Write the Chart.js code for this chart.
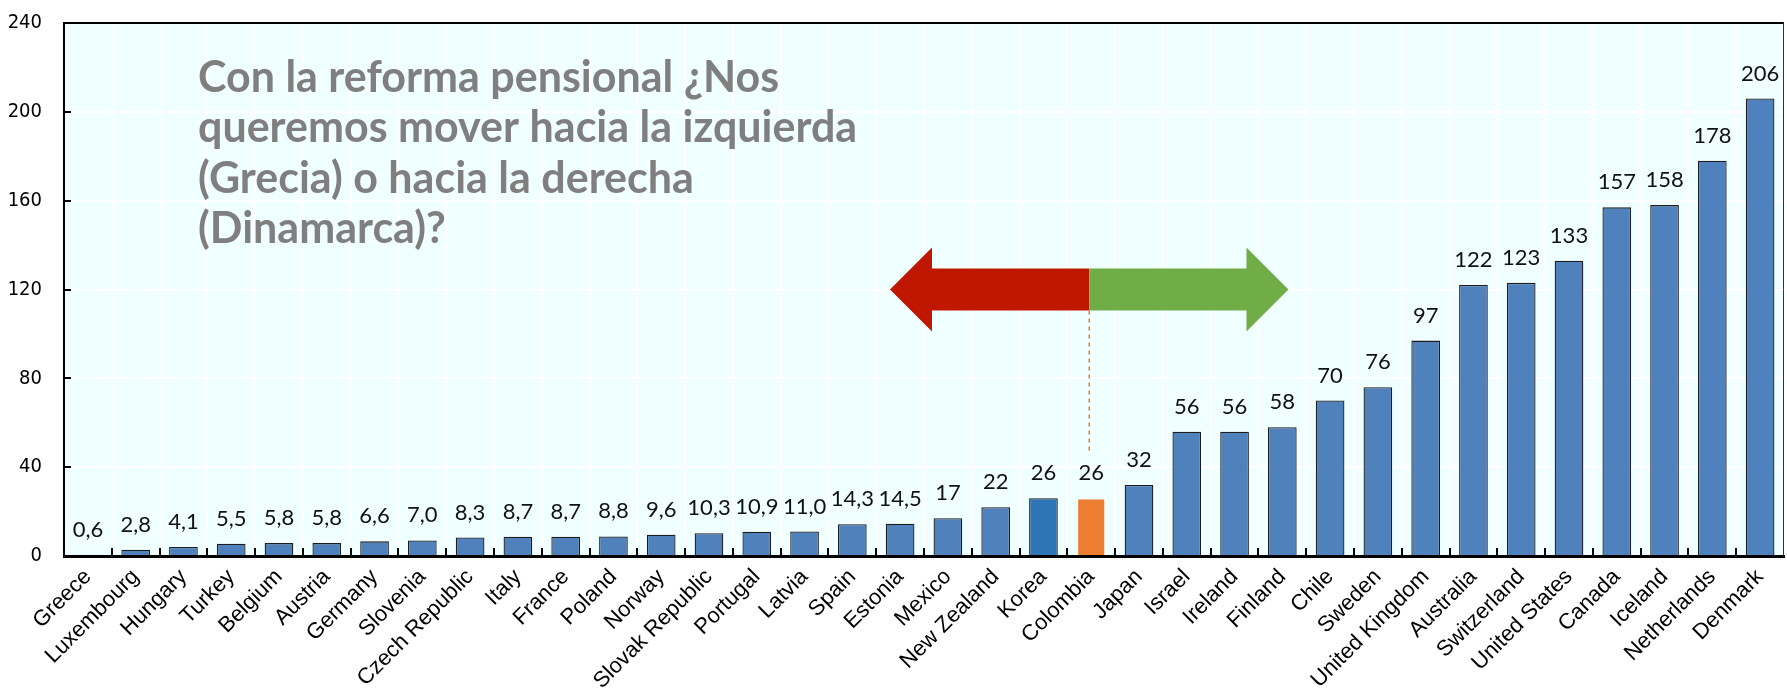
<!DOCTYPE html>
<html>
<head>
<meta charset="utf-8">
<script src="https://cdn.jsdelivr.net/npm/chart.js@4.4.1/dist/chart.umd.min.js"></script>
<style>
  html, body { margin: 0; padding: 0; background: #ffffff; }
  #wrap { width: 1787px; height: 692px; position: relative; }
</style>
</head>
<body>
<div id="wrap"><canvas id="c" width="1787" height="692"></canvas></div>
<script>
const categories = ["Greece","Luxembourg","Hungary","Turkey","Belgium","Austria","Germany","Slovenia","Czech Republic","Italy","France","Poland","Norway","Slovak Republic","Portugal","Latvia","Spain","Estonia","Mexico","New Zealand","Korea","Colombia","Japan","Israel","Ireland","Finland","Chile","Sweden","United Kingdom","Australia","Switzerland","United States","Canada","Iceland","Netherlands","Denmark"];
const values = [0.6,2.8,4.1,5.5,5.8,5.8,6.6,7.0,8.3,8.7,8.7,8.8,9.6,10.3,10.9,11.0,14.3,14.5,17,22,26,26,32,56,56,58,70,76,97,122,123,133,157,158,178,206];
const yTicks = [0,40,80,120,160,200,240];
const titleLines = ["Con la reforma pensional ¿Nos","queremos mover hacia la izquierda","(Grecia) o hacia la derecha","(Dinamarca)?"];
const highlightCountry = "Colombia";
const darkCountry = "Korea";

const barColors = categories.map(c => c === highlightCountry ? "#ED7D31" : (c === darkCountry ? "#2E75B6" : "#4F81BD"));
const barBorders = categories.map(c => c === highlightCountry ? "rgba(0,0,0,0)" : "#1c1c1c");
const fmt = v => v < 16 ? v.toFixed(1).replace(".", ",") : String(Math.round(v));

const bgPlugin = {
  id: "bg",
  beforeDraw(chart) {
    const {ctx, chartArea: a} = chart;
    ctx.save();
    ctx.fillStyle = "#F0FFFF";
    ctx.fillRect(a.left, a.top, a.right - a.left, a.bottom - a.top);
    ctx.restore();
  }
};

const framePlugin = {
  id: "frame",
  afterDraw(chart) {
    const {ctx, chartArea: a} = chart;
    const xs = chart.scales.x, ys = chart.scales.y;
    ctx.save();
    ctx.strokeStyle = "#000";
    ctx.lineWidth = 2;
    ys.ticks.forEach((t, i) => {
      const y = Math.round(ys.getPixelForTick(i));
      ctx.beginPath(); ctx.moveTo(a.left, y); ctx.lineTo(a.left + 7, y); ctx.stroke();
    });
    for (let i = 1; i < categories.length; i++) {
      const x = Math.round((xs.getPixelForValue(i - 1) + xs.getPixelForValue(i)) / 2);
      ctx.beginPath(); ctx.moveTo(x, a.bottom); ctx.lineTo(x, a.bottom - 8); ctx.stroke();
    }
    ctx.lineWidth = 2;
    ctx.beginPath(); ctx.moveTo(a.left, a.top); ctx.lineTo(a.right, a.top); ctx.stroke();
    ctx.lineWidth = 1;
    ctx.strokeStyle = "#333";
    ctx.beginPath(); ctx.moveTo(a.right - 0.5, a.top); ctx.lineTo(a.right - 0.5, a.bottom); ctx.stroke();
    ctx.restore();

    ctx.save();
    ctx.fillStyle = "#7F7F7F";
    ctx.font = "bold 43px Lato, 'Open Sans', sans-serif";
    ctx.textBaseline = "middle";
    ctx.textAlign = "left";
    titleLines.forEach((t, i) => ctx.fillText(t, 198, 78 + i * 50.5));
    ctx.restore();
  }
};

const labelPlugin = {
  id: "vlabels",
  afterDatasetsDraw(chart) {
    const {ctx} = chart;
    const meta = chart.getDatasetMeta(0);
    ctx.save();
    ctx.fillStyle = "#111";
    ctx.font = "22px Lato, 'Open Sans', sans-serif";
    ctx.textAlign = "center";
    ctx.textBaseline = "alphabetic";
    meta.data.forEach((el, i) => {
      ctx.fillText(fmt(values[i]), el.x, el.y - 18);
    });
    ctx.restore();
  }
};

const arrowPlugin = {
  id: "arrows",
  afterDatasetsDraw(chart) {
    const {ctx} = chart;
    const xs = chart.scales.x, ys = chart.scales.y;
    const idx = categories.indexOf(highlightCountry);
    const cx = xs.getPixelForValue(idx) - 2;
    const step = xs.getPixelForValue(1) - xs.getPixelForValue(0);
    const cy = ys.getPixelForValue(120);
    const len = 4.17 * step;
    const headLen = 42, bodyH = 21, headH = 42;
    ctx.save();
    ctx.fillStyle = "#C01800";
    ctx.beginPath();
    ctx.moveTo(cx, cy - bodyH);
    ctx.lineTo(cx - len + headLen, cy - bodyH);
    ctx.lineTo(cx - len + headLen, cy - headH);
    ctx.lineTo(cx - len, cy);
    ctx.lineTo(cx - len + headLen, cy + headH);
    ctx.lineTo(cx - len + headLen, cy + bodyH);
    ctx.lineTo(cx, cy + bodyH);
    ctx.closePath();
    ctx.fill();
    ctx.fillStyle = "#70AD47";
    ctx.beginPath();
    ctx.moveTo(cx, cy - bodyH);
    ctx.lineTo(cx + len - headLen, cy - bodyH);
    ctx.lineTo(cx + len - headLen, cy - headH);
    ctx.lineTo(cx + len, cy);
    ctx.lineTo(cx + len - headLen, cy + headH);
    ctx.lineTo(cx + len - headLen, cy + bodyH);
    ctx.lineTo(cx, cy + bodyH);
    ctx.closePath();
    ctx.fill();
    ctx.strokeStyle = "#ED7D31";
    ctx.lineWidth = 1.5;
    ctx.setLineDash([4, 4]);
    ctx.beginPath();
    ctx.moveTo(cx, cy + bodyH);
    ctx.lineTo(cx, ys.getPixelForValue(47));
    ctx.stroke();
    ctx.restore();
  }
};

new Chart(document.getElementById("c"), {
  type: "bar",
  data: {
    labels: categories,
    datasets: [{
      data: values,
      backgroundColor: barColors,
      borderColor: barBorders,
      borderWidth: 1.3,
      barPercentage: 0.6,
      categoryPercentage: 1.0
    }]
  },
  options: {
    responsive: false,
    animation: false,
    devicePixelRatio: 1,
    layout: { padding: { top: 23, right: 3, left: 0, bottom: 0 } },
    plugins: { legend: { display: false }, tooltip: { enabled: false }, title: { display: false } },
    scales: {
      x: {
        afterFit(s) { s.height = 136; },
        grid: { color: "#FFFFFF", lineWidth: 2, drawTicks: false, offset: true },
        border: { display: true, color: "#000", width: 3 },
        ticks: {
          autoSkip: false, minRotation: 45, maxRotation: 45, padding: 8,
          color: "#000", font: { family: "'Liberation Sans', Arial, sans-serif", size: 22 }
        }
      },
      y: {
        min: 0, max: 240,
        afterFit(s) { s.width = 64; s.paddingTop = 0; s.paddingBottom = 0; },
        afterBuildTicks(s) { s.ticks = yTicks.map(v => ({ value: v })); },
        grid: { color: "#FFFFFF", lineWidth: 2, drawTicks: false },
        border: { display: true, color: "#000", width: 2 },
        ticks: {
          padding: 22, color: "#000",
          font: { family: "'Liberation Sans Narrow', 'DejaVu Sans Condensed', sans-serif", size: 20 }
        }
      }
    }
  },
  plugins: [bgPlugin, labelPlugin, arrowPlugin, framePlugin]
});
</script>
</body>
</html>
